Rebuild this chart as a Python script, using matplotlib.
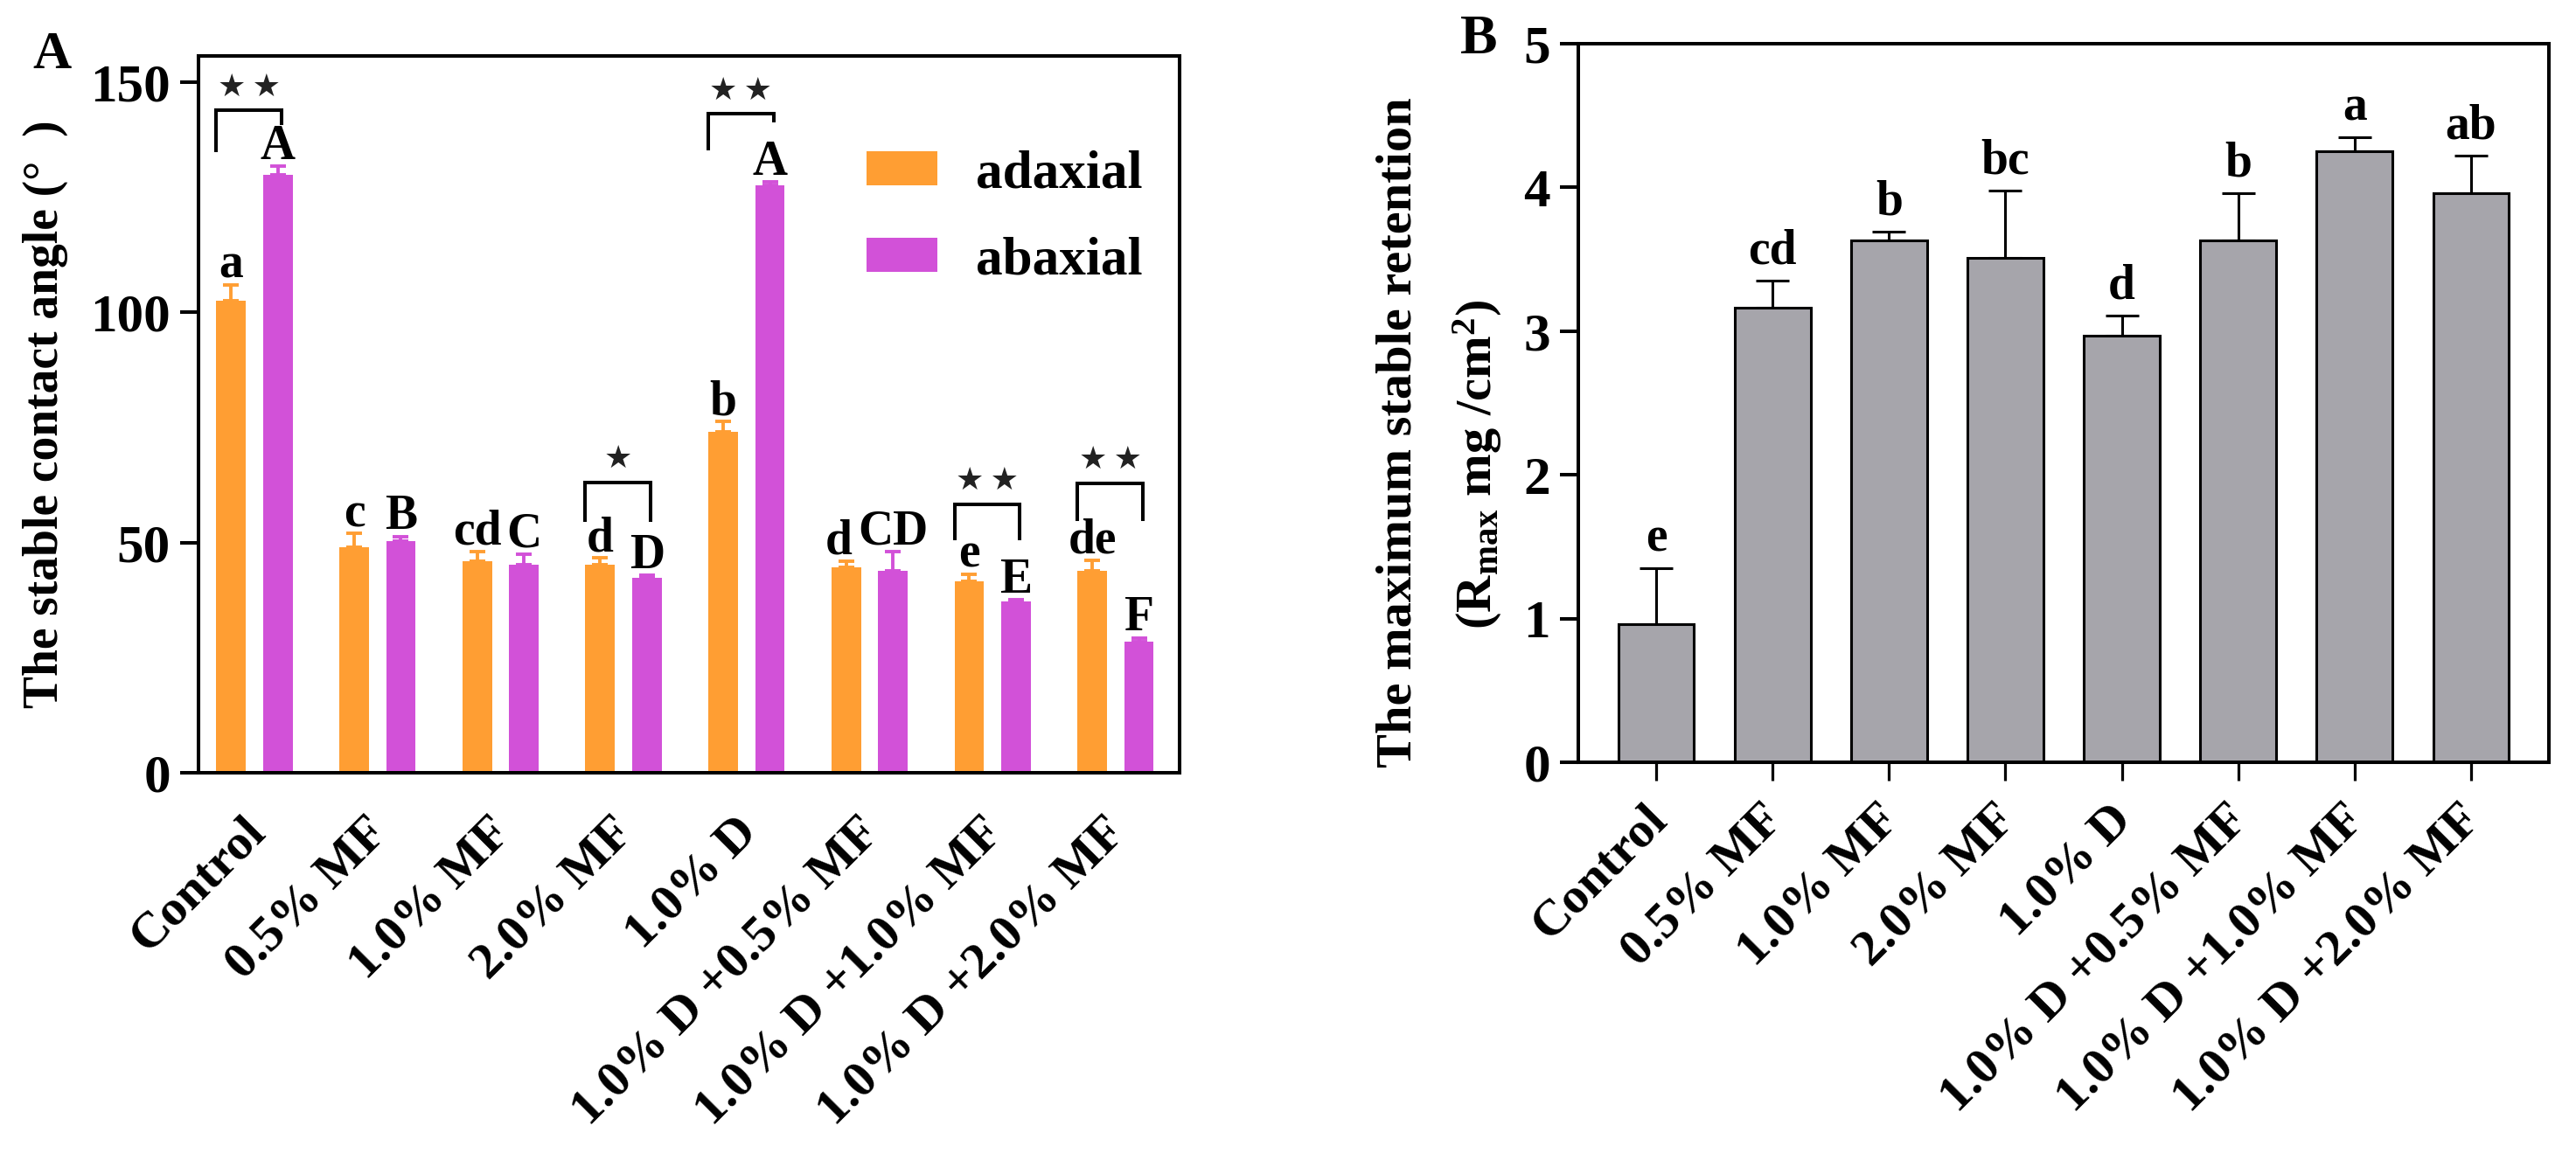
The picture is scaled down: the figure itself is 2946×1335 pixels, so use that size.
import numpy as np
import matplotlib
matplotlib.use("Agg")
import matplotlib.pyplot as plt
from matplotlib.transforms import ScaledTranslation

plt.rcParams["font.family"] = ["Liberation Serif", "DejaVu Serif"]
plt.rcParams["font.weight"] = "bold"
plt.rcParams["mathtext.fontset"] = "custom"
plt.rcParams["mathtext.rm"] = "Liberation Serif:bold"
plt.rcParams["mathtext.it"] = "Liberation Serif:bold"
plt.rcParams["mathtext.bf"] = "Liberation Serif:bold"

TREATMENTS = ["Control", "0.5% MF", "1.0% MF", "2.0% MF", "1.0% D",
              "1.0% D +0.5% MF", "1.0% D +1.0% MF", "1.0% D +2.0% MF"]

# panel A: stable contact angle
adaxial = [102.4, 48.9, 46.0, 45.2, 74.0, 44.6, 41.5, 43.8]
adaxial_err = [3.5, 3.0, 2.1, 1.4, 2.2, 1.4, 1.6, 2.3]
abaxial = [129.7, 50.3, 45.2, 42.4, 127.5, 43.8, 37.2, 28.5]
abaxial_err = [2.0, 1.0, 2.2, 0.5, 0.8, 4.3, 0.3, 0.8]
adaxial_letters = ["a", "c", "cd", "d", "b", "d", "e", "de"]
abaxial_letters = ["A", "B", "C", "D", "A", "CD", "E", "F"]
# significance brackets: group, top, left leg end, right leg end, stars
brackets = [
    (0, 143.8, 135.2, 141.0, "★\u2009★"),
    (3, 63.0, 54.9, 54.9, "★"),
    (4, 143.0, 135.4, 141.5, "★\u2009★"),
    (6, 58.3, 50.9, 50.9, "★\u2009★"),
    (7, 62.9, 55.0, 55.0, "★\u2009★"),
]

# panel B: maximum stable retention
retention = [0.96, 3.16, 3.63, 3.51, 2.97, 3.63, 4.25, 3.96]
retention_err = [0.39, 0.19, 0.06, 0.47, 0.14, 0.33, 0.10, 0.26]
retention_letters = ["e", "cd", "b", "bc", "d", "b", "a", "ab"]

ORANGE = "#ff9e33"
MAGENTA = "#d251d8"
GREY = "#a6a5ab"
LW = 1.45
FS = 21

W, H = 2946, 1335
fig = plt.figure(figsize=(W / 200, H / 200), dpi=200)
axA = fig.add_axes([227 / W, 1 - 884 / H, 1122 / W, 820 / H])
axB = fig.add_axes([1805 / W, 1 - 872 / H, 1110 / W, 822 / H])

for ax in (axA, axB):
    for sp in ax.spines.values():
        sp.set_linewidth(LW)
    ax.tick_params(axis="y", direction="out", length=7.5, width=LW,
                   labelsize=22, pad=4)

x = np.arange(len(TREATMENTS))
bw = 0.24
off = 0.19

# ---- panel A
axA.bar(x - off, adaxial, bw, color=ORANGE, label="adaxial", zorder=2)
axA.bar(x + off, abaxial, bw, color=MAGENTA, label="abaxial", zorder=2)
axA.errorbar(x - off, adaxial, yerr=[np.zeros(len(x)), adaxial_err], fmt="none",
             ecolor=ORANGE, elinewidth=1.4, capsize=3.3, capthick=1.4, zorder=1)
axA.errorbar(x + off, abaxial, yerr=[np.zeros(len(x)), abaxial_err], fmt="none",
             ecolor=MAGENTA, elinewidth=1.4, capsize=3.3, capthick=1.4, zorder=1)

for i, (xi, v, e, t) in enumerate(zip(x - off, adaxial, adaxial_err, adaxial_letters)):
    dx = -3 if t == "d" and abaxial_letters[i] == "CD" else 0
    axA.annotate(t, (xi, v + e), xytext=(dx, 3), textcoords="offset points",
                 ha="center", va="baseline", fontsize=20, fontweight="bold")
for xi, v, e, t in zip(x + off, abaxial, abaxial_err, abaxial_letters):
    axA.annotate(t, (xi, v + e), xytext=(0, 3), textcoords="offset points",
                 ha="center", va="baseline", fontsize=20, fontweight="bold")

for g, top, yl, yr, stars in brackets:
    xl = g - off - bw / 2
    xr = g + off + 0.03
    axA.plot([xl, xl, xr, xr], [yl, top, top, yr], color="black", lw=LW,
             solid_joinstyle="miter", zorder=3)
    axA.annotate(stars, ((xl + xr) / 2, top), xytext=(0, 6),
                 textcoords="offset points", ha="center", va="baseline",
                 fontsize=13, family="DejaVu Sans", color="#222222")

axA.set_xlim(-0.455, 7.52)
axA.set_ylim(0, 155.6)
axA.set_yticks([0, 50, 100, 150])
axA.set_xticks(x, TREATMENTS, rotation=45, ha="right")
axA.tick_params(axis="x", length=0, labelsize=FS, pad=15)
axA.set_ylabel("The stable contact angle (°  )", fontsize=20, fontweight="bold")
axA.yaxis.set_label_coords(-0.133, 0.5)
axA.legend(loc="upper left", bbox_to_anchor=(0.659, 0.899), frameon=False,
           fontsize=22, handlelength=1.33, handleheight=0.6,
           handletextpad=0.72, labelspacing=0.7, borderaxespad=0)

# ---- panel B
bwB = 0.65
axB.bar(x, retention, bwB, color=GREY, edgecolor="black", linewidth=1.1, zorder=2)
axB.errorbar(x, retention, yerr=[np.zeros(len(x)), retention_err], fmt="none",
             ecolor="black", elinewidth=1.1, capsize=7, capthick=1.1, zorder=1)
for xi, v, e, t in zip(x, retention, retention_err, retention_letters):
    axB.annotate(t, (xi, v + e), xytext=(0, 7), textcoords="offset points",
                 ha="center", va="baseline", fontsize=20, fontweight="bold")
axB.set_xlim(-0.67, 7.67)
axB.set_ylim(0, 5)
axB.set_yticks(range(6))
axB.set_xticks(x, TREATMENTS, rotation=45, ha="right")
axB.tick_params(axis="x", direction="out", length=7.5, width=LW * 0.8,
                labelsize=FS, pad=6.5)

fig.text(1600 / W, 1 - 495 / H, "The maximum stable retention", rotation=90,
         ha="center", va="center", fontsize=21, fontweight="bold")
fig.text(1690 / W, 1 - 531 / H, "(R$_{\\mathrm{max}}$ mg /cm$^{\\mathrm{2}}$)",
         rotation=90, ha="center", va="center", fontsize=21, fontweight="bold")

shift = ScaledTranslation(0.11, 0, fig.dpi_scale_trans)
for ax in (axA, axB):
    for lab in ax.get_xticklabels():
        lab.set_transform(lab.get_transform() + shift)
        lab.set_fontweight("bold")
    for lab in ax.get_yticklabels():
        lab.set_fontweight("bold")

fig.text(60 / W, 1 - 63 / H, "A", ha="center", va="center", fontsize=22,
         fontweight="bold")
fig.text(1691 / W, 1 - 46 / H, "B", ha="center", va="center", fontsize=23,
         fontweight="bold")

fig.savefig("out.png", dpi=200, facecolor="white")
